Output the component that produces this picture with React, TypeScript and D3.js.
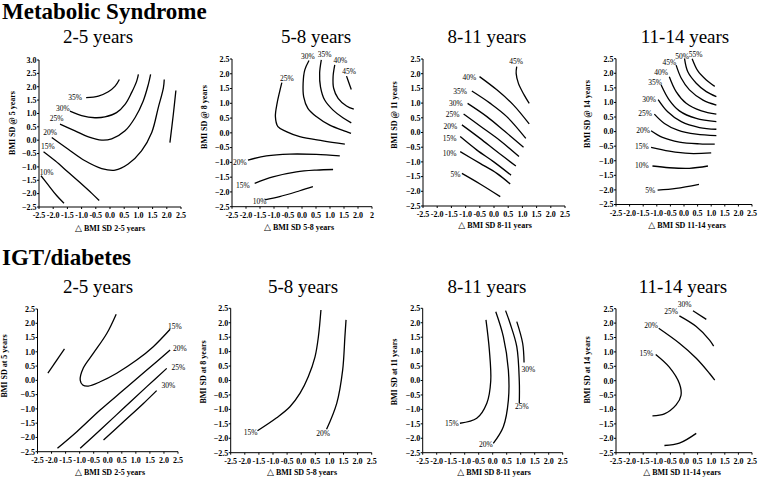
import React from 'react';
import * as d3 from 'd3';

type Pt = [number, number];
interface Contour { level: string; points: Pt[]; label?: Pt }

const xTickValues = [-2.5, -2, -1.5, -1, -0.5, 0, 0.5, 1, 1.5, 2, 2.5];
const xTickLabelsStd = ['-2.5', '-2.0', '-1.5', '-1.0', '-0.5', '0.0', '0.5', '1.0', '1.5', '2.0', '2.5'];
const xTickLabels58 = ['-2.5', '-2.0', '-1.5', '-1.0', '-0.5', '0.0', '0.5', '1.0', '1.5', '2.0', '2'];
const yTickValuesTall = [-2.5, -2, -1.5, -1, -0.5, 0, 0.5, 1, 1.5, 2, 2.5, 3];
const yTickValuesStd = [-2.5, -2, -1.5, -1, -0.5, 0, 0.5, 1, 1.5, 2, 2.5];

// Metabolic syndrome, 2-5 years
const metS_2_5: Contour[] = [
  { level: '35%', label: [-1.23, 1.59], points: [[-0.84, 1.59], [-0.41, 1.65], [-0.06, 1.81], [0.18, 2.02], [0.33, 2.27]] },
  { level: '30%', label: [-1.66, 1.18], points: [[-1.41, 1.09], [-1.0, 0.92], [-0.53, 0.84], [-0.18, 0.87], [0.23, 1.03], [0.53, 1.34], [0.76, 1.78], [0.94, 2.21], [1.0, 2.46]] },
  { level: '25%', label: [-1.88, 0.81], points: [[-1.76, 0.6], [-1.23, 0.35], [-0.76, 0.12], [-0.29, 0.0], [0.06, 0.05], [0.53, 0.35], [0.88, 0.84], [1.17, 1.47], [1.35, 2.09], [1.43, 2.46]] },
  { level: '20%', label: [-2.11, 0.29], points: [[-2.05, 0.1], [-1.47, -0.34], [-0.88, -0.77], [-0.29, -1.06], [0.18, -1.12], [0.64, -0.89], [1.11, -0.4], [1.47, 0.29], [1.7, 1.22], [1.88, 1.96], [1.91, 2.27]] },
  { level: '15%', label: [-2.19, -0.25], points: [[-2.34, -0.43], [-1.93, -0.77], [-1.47, -1.2], [-1.0, -1.64], [-0.64, -1.99], [-0.38, -2.26]] },
  { level: '10%', label: [-2.23, -1.2], points: [[-2.43, -1.33], [-2.17, -1.68], [-1.88, -2.07], [-1.62, -2.36]] },
  { level: '', points: [[2.32, 1.86], [2.23, 0.97], [2.11, -0.09]] },
];

// Metabolic syndrome, 5-8 years
const metS_5_8: Contour[] = [
  { level: '25%', label: [-0.54, 1.85], points: [[-0.72, 1.7], [-0.8, 1.39], [-0.89, 1.0], [-0.95, 0.55], [-0.86, 0.21], [-0.56, 0.04], [-0.08, -0.13], [0.75, -0.27], [1.53, -0.38]] },
  { level: '30%', label: [0.21, 2.58], points: [[0.25, 2.45], [0.1, 2.13], [0.04, 1.68], [0.06, 1.22], [0.21, 0.83], [0.51, 0.55], [0.99, 0.26], [1.59, 0.04], [1.75, -0.02]] },
  { level: '35%', label: [0.81, 2.64], points: [[0.69, 2.47], [0.63, 2.02], [0.66, 1.56], [0.81, 1.11], [1.11, 0.77], [1.46, 0.51], [1.76, 0.34]] },
  { level: '40%', label: [1.37, 2.45], points: [[1.17, 2.3], [1.11, 1.9], [1.13, 1.51], [1.29, 1.17], [1.59, 0.91], [1.85, 0.8]] },
  { level: '45%', label: [1.68, 2.07], points: [[1.59, 1.92], [1.68, 1.68], [1.76, 1.47]] },
  { level: '20%', label: [-2.22, -1.01], points: [[-1.93, -0.92], [-1.27, -0.78], [-0.44, -0.72], [0.51, -0.73], [1.35, -0.78]] },
  { level: '15%', label: [-2.11, -1.77], points: [[-1.69, -1.71], [-1.04, -1.49], [-0.2, -1.32], [0.51, -1.26], [1.11, -1.24]] },
  { level: '10%', label: [-1.51, -2.33], points: [[-1.33, -2.27], [-0.8, -2.16], [-0.08, -1.96], [0.39, -1.82]] },
];

// Metabolic syndrome, 8-11 years
const metS_8_11: Contour[] = [
  { level: '45%', label: [0.78, 2.41], points: [[0.8, 2.24], [0.78, 2.01], [0.86, 1.67], [1.06, 1.28], [1.24, 0.99]] },
  { level: '40%', label: [-0.87, 1.88], points: [[-0.51, 1.9], [0.1, 1.45], [0.68, 0.94], [1.24, 0.29]] },
  { level: '35%', label: [-1.19, 1.39], points: [[-0.78, 1.41], [-0.13, 0.99], [0.45, 0.54], [1.12, -0.2]] },
  { level: '30%', label: [-1.34, 0.99], points: [[-0.93, 0.99], [-0.25, 0.54], [0.39, 0.03], [1.04, -0.5]] },
  { level: '25%', label: [-1.46, 0.6], points: [[-1.07, 0.63], [-0.49, 0.22], [0.22, -0.28], [0.88, -0.82]] },
  { level: '20%', label: [-1.54, 0.22], points: [[-1.13, 0.26], [-0.49, -0.2], [0.1, -0.65], [0.77, -1.14]] },
  { level: '15%', label: [-1.56, -0.2], points: [[-1.19, -0.14], [-0.6, -0.6], [-0.02, -0.99], [0.6, -1.45]] },
  { level: '10%', label: [-1.56, -0.71], points: [[-1.19, -0.65], [-0.49, -1.05], [0.1, -1.39], [0.57, -1.75]] },
  { level: '5%', label: [-1.36, -1.42], points: [[-1.13, -1.39], [-0.49, -1.75], [0.22, -2.18]] },
];

// Metabolic syndrome, 11-14 years
const metS_11_14: Contour[] = [
  { level: '55%', label: [0.43, 2.65], points: [[0.3, 2.5], [0.51, 2.08], [0.82, 1.77], [1.13, 1.55]] },
  { level: '50%', label: [-0.07, 2.59], points: [[0.02, 2.5], [0.14, 2.05], [0.45, 1.66], [0.82, 1.37], [1.19, 1.2]] },
  { level: '45%', label: [-0.54, 2.38], points: [[-0.29, 2.28], [-0.1, 1.83], [0.2, 1.43], [0.7, 1.08], [1.19, 0.91]] },
  { level: '40%', label: [-0.84, 2.02], points: [[-0.54, 1.88], [-0.29, 1.37], [0.08, 0.97], [0.64, 0.71], [1.19, 0.6]] },
  { level: '35%', label: [-1.06, 1.68], points: [[-0.84, 1.6], [-0.54, 1.08], [-0.17, 0.71], [0.45, 0.45], [1.19, 0.34]] },
  { level: '30%', label: [-1.28, 1.11], points: [[-0.95, 1.1], [-0.6, 0.68], [-0.1, 0.34], [0.57, 0.14], [1.19, 0.08]] },
  { level: '25%', label: [-1.43, 0.63], points: [[-1.09, 0.6], [-0.72, 0.28], [-0.23, 0.05], [0.45, -0.09], [1.19, -0.14]] },
  { level: '20%', label: [-1.5, 0.05], points: [[-1.21, 0.03], [-0.79, -0.2], [-0.17, -0.36], [0.57, -0.42], [1.13, -0.43]] },
  { level: '15%', label: [-1.55, -0.52], points: [[-1.21, -0.54], [-0.54, -0.67], [0.2, -0.75], [1.0, -0.73]] },
  { level: '10%', label: [-1.55, -1.17], points: [[-1.16, -1.18], [-0.54, -1.24], [0.2, -1.26], [0.88, -1.18]] },
  { level: '5%', label: [-1.24, -2.01], points: [[-0.97, -2.01], [-0.29, -1.95], [0.55, -1.81]] },
];

// IGT/diabetes, 2-5 years
const igt_2_5: Contour[] = [
  { level: '', points: [[-2.13, 0.25], [-1.54, 1.1]] },
  { level: '15%', label: [2.39, 1.9], points: [[0.3, 2.32], [-0.03, 1.65], [-0.51, 0.95], [-0.87, 0.43], [-0.98, 0.01], [-0.89, -0.16], [-0.69, -0.2], [-0.27, -0.05], [0.32, 0.25], [1.03, 0.71], [1.62, 1.18], [2.22, 1.79]] },
  { level: '20%', label: [2.57, 1.12], points: [[-1.79, -2.38], [-1.1, -1.8], [-0.27, -1.04], [0.56, -0.34], [1.39, 0.36], [2.22, 1.06]] },
  { level: '25%', label: [2.51, 0.46], points: [[-0.98, -2.38], [-0.27, -1.74], [0.56, -0.98], [1.39, -0.22], [2.1, 0.42]] },
  { level: '30%', label: [2.16, -0.19], points: [[-0.15, -2.09], [0.56, -1.45], [1.27, -0.81], [1.74, -0.36]] },
];

// IGT/diabetes, 5-8 years
const igt_5_8: Contour[] = [
  { level: '15%', label: [-1.79, -1.81], points: [[-1.55, -1.74], [-0.87, -1.29], [-0.4, -0.91], [-0.04, -0.44], [0.25, 0.13], [0.49, 0.82], [0.61, 1.52], [0.7, 2.44]] },
  { level: '20%', label: [0.78, -1.83], points: [[0.9, -1.69], [1.26, -0.79], [1.47, 0.36], [1.55, 1.52], [1.59, 2.1]] },
];

// IGT/diabetes, 8-11 years
const igt_8_11: Contour[] = [
  { level: '15%', label: [-1.46, -1.48], points: [[-1.17, -1.48], [-0.57, -1.31], [-0.21, -0.79], [-0.07, -0.02], [-0.12, 1.06], [-0.24, 2.1]] },
  { level: '20%', label: [-0.24, -2.2], points: [[0.02, -2.18], [0.38, -1.6], [0.56, -0.68], [0.56, 0.36], [0.38, 1.52], [0.11, 2.38]] },
  { level: '25%', label: [1.04, -0.91], points: [[0.95, -0.79], [0.95, -0.03], [0.86, 1.17], [0.62, 1.98], [0.46, 2.42]] },
  { level: '30%', label: [1.27, 0.4], points: [[1.12, 0.62], [1.07, 1.29], [0.86, 2.04]] },
];

// IGT/diabetes, 11-14 years
const igt_11_14: Contour[] = [
  { level: '30%', label: [0.02, 2.65], points: [[0.33, 2.43], [0.82, 2.13]] },
  { level: '25%', label: [-0.47, 2.39], points: [[-0.17, 2.25], [0.45, 1.88], [0.94, 1.41], [1.09, 1.2]] },
  { level: '20%', label: [-1.21, 1.93], points: [[-0.93, 1.82], [-0.17, 1.3], [0.45, 0.78], [0.94, 0.25], [1.13, 0.02]] },
  { level: '15%', label: [-1.38, 0.95], points: [[-1.04, 0.91], [-0.54, 0.47], [-0.17, -0.1], [-0.11, -0.51], [-0.29, -0.84], [-0.72, -1.15], [-1.16, -1.22]] },
  { level: '', points: [[-0.72, -2.25], [-0.17, -2.17], [0.45, -1.83]] },
];

interface PanelCfg {
  title: string; xTitle: string; yTitle: string;
  contours: Contour[]; yTicks: number[]; xLabels: string[];
  x0: number; x1: number; y0: number; y1: number;
  titleX: number; titleY: number; xTitleX: number; xTitleY: number; yTitleX: number; yTitleY: number;
}

const SERIF = '"Liberation Serif", "Times New Roman", Times, serif';

const panels: PanelCfg[] = [
  { title: '2-5 years', xTitle: 'BMI SD 2-5 years', yTitle: 'BMI SD @ 5 years', contours: metS_2_5, yTicks: yTickValuesTall, xLabels: xTickLabelsStd,
    x0: 39, x1: 181, y0: 207, y1: 60, titleX: 98, titleY: 43, xTitleX: 110, xTitleY: 231, yTitleX: 15, yTitleY: 123 },
  { title: '5-8 years', xTitle: 'BMI SD 5-8 years', yTitle: 'BMI SD @ 8 years', contours: metS_5_8, yTicks: yTickValuesStd, xLabels: xTickLabels58,
    x0: 232, x1: 372, y0: 206.7, y1: 59, titleX: 316, titleY: 43, xTitleX: 299, xTitleY: 230, yTitleX: 207, yTitleY: 117 },
  { title: '8-11 years', xTitle: 'BMI SD 8-11 years', yTitle: 'BMI SD @ 11 years', contours: metS_8_11, yTicks: yTickValuesStd, xLabels: xTickLabelsStd,
    x0: 423, x1: 565, y0: 206, y1: 59, titleX: 487, titleY: 43, xTitleX: 495, xTitleY: 228, yTitleX: 397, yTitleY: 115 },
  { title: '11-14 years', xTitle: 'BMI SD 11-14 years', yTitle: 'BMI SD @ 14 years', contours: metS_11_14, yTicks: yTickValuesStd, xLabels: xTickLabelsStd,
    x0: 616, x1: 752, y0: 204.5, y1: 58.7, titleX: 685, titleY: 43, xTitleX: 687, xTitleY: 228, yTitleX: 590, yTitleY: 114 },
  { title: '2-5 years', xTitle: 'BMI SD 2-5 years', yTitle: 'BMI SD at 5 years', contours: igt_2_5, yTicks: yTickValuesStd, xLabels: xTickLabelsStd,
    x0: 37.5, x1: 178, y0: 451.7, y1: 309, titleX: 98, titleY: 293, xTitleX: 110, xTitleY: 475, yTitleX: 7, yTitleY: 366 },
  { title: '5-8 years', xTitle: 'BMI SD 5-8 years', yTitle: 'BMI SD at 8 years', contours: igt_5_8, yTicks: yTickValuesStd, xLabels: xTickLabelsStd,
    x0: 230.7, x1: 371.7, y0: 452.7, y1: 308.3, titleX: 303, titleY: 293, xTitleX: 302, xTitleY: 475, yTitleX: 206, yTitleY: 372 },
  { title: '8-11 years', xTitle: 'BMI SD 8-11 years', yTitle: 'BMI SD at 11 years', contours: igt_8_11, yTicks: yTickValuesStd, xLabels: xTickLabelsStd,
    x0: 422.7, x1: 562.7, y0: 452.7, y1: 308.3, titleX: 487, titleY: 293, xTitleX: 494, xTitleY: 475, yTitleX: 397, yTitleY: 372 },
  { title: '11-14 years', xTitle: 'BMI SD 11-14 years', yTitle: 'BMI SD at 14 years', contours: igt_11_14, yTicks: yTickValuesStd, xLabels: xTickLabelsStd,
    x0: 616, x1: 752, y0: 452.7, y1: 308.7, titleX: 683, titleY: 293, xTitleX: 682, xTitleY: 475, yTitleX: 590, yTitleY: 370 },
];

const Panel: React.FC<{ cfg: PanelCfg }> = ({ cfg }) => {
  const yMax = cfg.yTicks[cfg.yTicks.length - 1];
  const x = d3.scaleLinear().domain([-2.5, 2.5]).range([cfg.x0, cfg.x1]);
  const y = d3.scaleLinear().domain([-2.5, yMax]).range([cfg.y0, cfg.y1]);
  const line = d3.line<Pt>().x(d => x(d[0])).y(d => y(d[1])).curve(d3.curveCatmullRom.alpha(0.5));
  const fmt = d3.format('.1f');
  return (
    <g>
      <text x={cfg.titleX} y={cfg.titleY} textAnchor="middle" fontSize={19} fontFamily={SERIF} fill="#000">{cfg.title}</text>
      <line x1={cfg.x0} x2={cfg.x0} y1={cfg.y0} y2={cfg.y1} stroke="#000" strokeWidth={1} />
      <line x1={cfg.x0} x2={cfg.x1} y1={cfg.y0} y2={cfg.y0} stroke="#000" strokeWidth={1} />
      {cfg.yTicks.map(t => (
        <g key={'y' + t}>
          <line x1={cfg.x0 - 2} x2={cfg.x0} y1={y(t)} y2={y(t)} stroke="#000" strokeWidth={1} />
          <text x={cfg.x0 - 2.5} y={y(t)} dy="0.35em" textAnchor="end" fontSize={8} fontWeight="bold" fontFamily={SERIF} fill="#000">{fmt(t)}</text>
        </g>
      ))}
      {xTickValues.map((t, i) => (
        <g key={'x' + t}>
          <line x1={x(t)} x2={x(t)} y1={cfg.y0} y2={cfg.y0 + 2} stroke="#000" strokeWidth={1} />
          <text x={x(t)} y={cfg.y0 + 11} textAnchor="middle" fontSize={8} fontWeight="bold" fontFamily={SERIF} fill="#000">{cfg.xLabels[i]}</text>
        </g>
      ))}
      <text x={cfg.xTitleX} y={cfg.xTitleY} textAnchor="middle" fontSize={8} fontFamily={SERIF} fill="#000">
        <tspan fontSize={9} fontFamily='"DejaVu Sans", sans-serif' fontWeight="normal">△</tspan>
        <tspan fontWeight="bold"> {cfg.xTitle}</tspan>
      </text>
      <text transform={`translate(${cfg.yTitleX},${cfg.yTitleY}) rotate(-90)`} textAnchor="middle" fontSize={8} fontWeight="bold" fontFamily={SERIF} fill="#000">{cfg.yTitle}</text>
      {cfg.contours.map((c, i) => (
        <g key={'c' + i}>
          <path d={line(c.points) || ''} fill="none" stroke="#000" strokeWidth={1.3} />
          {c.label && (
            <text x={x(c.label[0])} y={y(c.label[1])} dy="0.35em" textAnchor="middle" fontSize={7.5} fontFamily={SERIF} fill="#000">{c.level}</text>
          )}
        </g>
      ))}
    </g>
  );
};

export default function App() {
  return (
    <div style={{ position: 'absolute', left: 0, top: 0, width: 761, height: 479, background: '#fff' }}>
      <svg width={761} height={479} viewBox="0 0 761 479" style={{ display: 'block' }}>
        <rect width={761} height={479} fill="#fff" />
        <text x={2} y={19} fontSize={23} fontWeight="bold" fontFamily={SERIF} fill="#000">Metabolic Syndrome</text>
        <text x={2} y={265} fontSize={23} fontWeight="bold" fontFamily={SERIF} fill="#000">IGT/diabetes</text>
        {panels.map((p, i) => <Panel key={i} cfg={p} />)}
      </svg>
    </div>
  );
}
